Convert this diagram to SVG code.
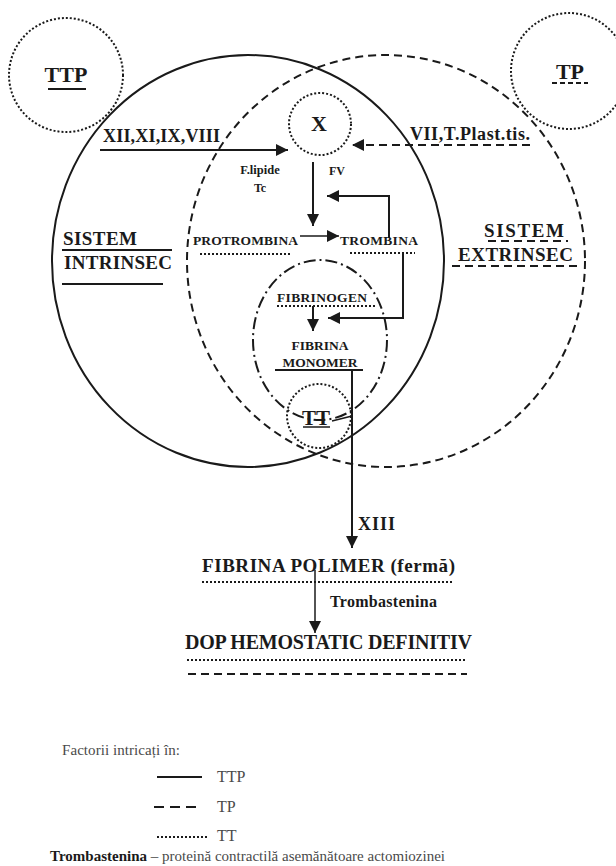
<svg xmlns="http://www.w3.org/2000/svg" width="616" height="866" viewBox="0 0 616 866">
<defs>
<style>
.ln{stroke:#1a1a1a;stroke-width:2;fill:none}
.thin{stroke:#1a1a1a;stroke-width:1.5;fill:none}
.da{stroke-dasharray:8 5}
.dt{stroke-dasharray:2 2}
.dd{stroke-dasharray:12 4 2 4}
.t{font-family:"Liberation Serif","Times New Roman",serif;font-weight:bold;fill:#1a1a1a}
.r{font-family:"Liberation Serif","Times New Roman",serif;fill:#4a4a4a}
</style>
<marker id="ah" viewBox="0 0 10 10" refX="10" refY="5" markerWidth="12" markerHeight="12" markerUnits="userSpaceOnUse" orient="auto">
<path d="M0,0 L10,5 L0,10 z" fill="#1a1a1a"/>
</marker>
</defs>
<rect width="616" height="866" fill="#fff"/>

<g id="intrinsec">
<ellipse class="ln" cx="248" cy="261" rx="196" ry="206"/>
<text class="t" x="63" y="245" font-size="19" textLength="74">SISTEM</text>
<line class="ln" x1="62" y1="250" x2="172" y2="250"/>
<text class="t" x="64" y="269" font-size="19" textLength="108">INTRINSEC</text>
<line class="ln" x1="62" y1="284" x2="163" y2="284"/>
</g>

<g id="extrinsec">
<ellipse class="ln da" cx="386" cy="261" rx="199" ry="206"/>
<text class="t" x="484" y="237" font-size="19" textLength="80">SISTEM</text>
<line class="ln da" x1="488" y1="241" x2="568" y2="241"/>
<text class="t" x="458" y="261" font-size="19" textLength="115">EXTRINSEC</text>
<line class="ln da" x1="452" y1="266" x2="580" y2="266"/>
</g>

<g id="ttp">
<circle class="ln dt" cx="66" cy="75" r="57"/>
<text class="t" x="66" y="82" font-size="22" text-anchor="middle">TTP</text>
<line class="ln" x1="48" y1="89" x2="86" y2="89"/>
</g>

<g id="tp">
<circle class="ln dt" cx="569" cy="71" r="58"/>
<text class="t" x="570" y="79" font-size="22" text-anchor="middle">TP</text>
<line class="ln da" x1="552" y1="83" x2="588" y2="83" style="stroke-dasharray:5 3"/>
</g>

<g id="x">
<circle class="ln dt" cx="320" cy="124" r="31"/>
<text class="t" x="319" y="131" font-size="22" text-anchor="middle">X</text>
</g>

<g id="protrombina">
<text class="t" x="193" y="245" font-size="13.5" textLength="105">PROTROMBINA</text>
<line class="ln dt" x1="200" y1="254" x2="290" y2="254"/>
</g>

<g id="trombina">
<text class="t" x="340" y="245" font-size="13.5" textLength="78">TROMBINA</text>
<line class="ln dt" x1="350" y1="253" x2="415" y2="253"/>
</g>

<g id="fibrinogen">
<ellipse class="ln dd" cx="320" cy="340" rx="67" ry="80"/>
<text class="t" x="277" y="302" font-size="13.5" textLength="90">FIBRINOGEN</text>
<line class="ln dt" x1="277" y1="306" x2="375" y2="306"/>
</g>

<g id="fibrina-monomer">
<text class="t" x="320" y="350" font-size="13.5" text-anchor="middle">FIBRINA</text>
<text class="t" x="320" y="367" font-size="13.5" text-anchor="middle">MONOMER</text>
<line class="ln" x1="275" y1="370" x2="363" y2="370"/>
</g>

<g id="tt">
<circle class="ln dt" cx="319" cy="416" r="32"/>
<text class="t" x="316" y="425" font-size="21" text-anchor="middle">TT</text>
<line class="thin" x1="303" y1="427" x2="330" y2="427"/>
<line class="thin" x1="332" y1="421" x2="352" y2="416"/>
</g>

<g id="fibrina-polimer">
<text class="t" x="202" y="572" font-size="19" textLength="253">FIBRINA  POLIMER (fermă)</text>
<line class="ln dt" x1="202" y1="582" x2="452" y2="582"/>
</g>

<g id="dop">
<text class="t" x="185" y="649" font-size="20" textLength="287">DOP HEMOSTATIC DEFINITIV</text>
<line class="ln dt" x1="187" y1="660" x2="465" y2="660"/>
<line class="ln da" x1="188" y1="674" x2="467" y2="674"/>
</g>

<g id="connectors">
<line class="ln" x1="100" y1="150" x2="288" y2="150" marker-end="url(#ah)"/>
<text class="t" x="103" y="142" font-size="18" textLength="117">XII,XI,IX,VIII</text>
<line class="ln da" x1="530" y1="145" x2="352" y2="145" marker-end="url(#ah)"/>
<text class="t" x="410" y="140" font-size="18" textLength="120">VII,T.Plast.tis.</text>
<text class="t" x="260" y="174" font-size="12.5" text-anchor="middle">F.lipide</text>
<text class="t" x="260" y="192" font-size="12" text-anchor="middle">Tc</text>
<text class="t" x="337" y="175" font-size="12" text-anchor="middle">FV</text>
<line class="ln" x1="313" y1="162" x2="313" y2="226" marker-end="url(#ah)"/>
<line class="thin" x1="300" y1="236" x2="339" y2="236" marker-end="url(#ah)"/>
<polyline class="ln" points="389,238 389,196 327,196" marker-end="url(#ah)"/>
<polyline class="ln" points="403,253 403,318 328,318" marker-end="url(#ah)"/>
<line class="ln" x1="313" y1="306" x2="313" y2="331" marker-end="url(#ah)"/>
<line class="ln" x1="352" y1="370" x2="352" y2="548" marker-end="url(#ah)"/>
<text class="t" x="358" y="530" font-size="18" textLength="37">XIII</text>
<line class="thin" x1="315" y1="570" x2="315" y2="633" marker-end="url(#ah)"/>
<text class="t" x="330" y="607" font-size="16" textLength="107">Trombastenina</text>
</g>

<g id="legend">
<text class="r" x="62" y="755" font-size="15" textLength="118">Factorii intricați în:</text>
<line class="ln" x1="157" y1="777" x2="202" y2="777"/>
<text class="r" x="217" y="782" font-size="16">TTP</text>
<line class="ln" x1="154" y1="807" x2="202" y2="807" style="stroke-dasharray:10 6"/>
<text class="r" x="217" y="812" font-size="16">TP</text>
<line class="ln dt" x1="157" y1="837" x2="207" y2="837"/>
<text class="r" x="217" y="841" font-size="16">TT</text>
<text x="50" y="861" font-size="15" textLength="395" font-family="Liberation Serif, Times New Roman, serif"><tspan font-weight="bold" fill="#1a1a1a">Trombastenina</tspan><tspan fill="#4a4a4a"> – proteină contractilă asemănătoare actomiozinei</tspan></text>
</g>
</svg>
